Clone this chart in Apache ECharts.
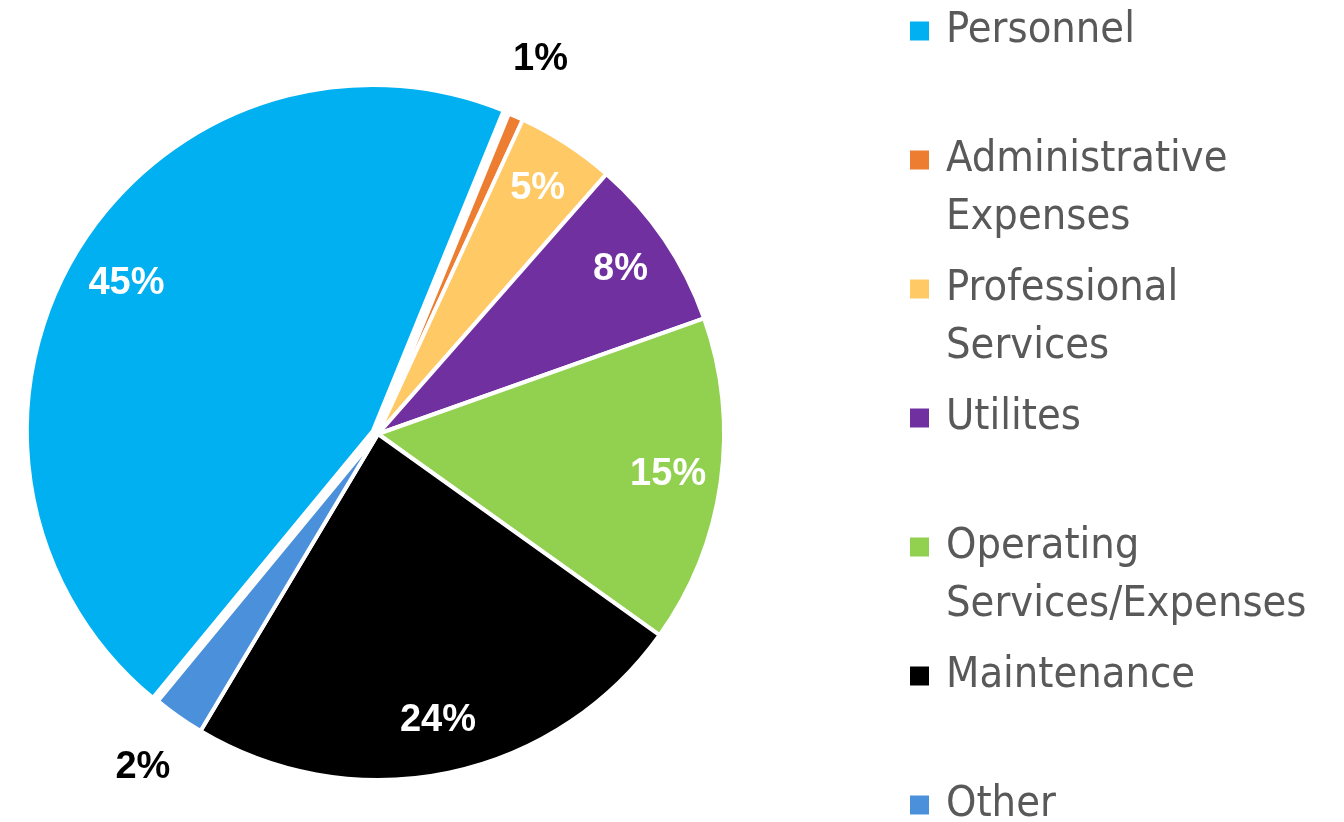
<!DOCTYPE html>
<html><head><meta charset="utf-8">
<script src="https://cdn.jsdelivr.net/npm/echarts@6/dist/echarts.min.js"></script>
<style>html,body{margin:0;padding:0;background:#fff}#c{width:1344px;height:822px}</style>
</head><body><div id="c"></div>
<script>
const categories = ['Personnel', 'Administrative\nExpenses', 'Professional\nServices', 'Utilites', 'Operating\nServices/Expenses', 'Maintenance', 'Other'];
const values = [45.2, 0.7, 4.6, 8.1, 15.3, 23.7, 2.4];
const colors = ['#00B0F0', '#ED7D31', '#FFCA66', '#7030A0', '#92D050', '#000000', '#4A90DA'];

const chart = echarts.init(document.getElementById('c'), null, {renderer: 'canvas'});
const CENTER = [378, 434], R = 346, START = 230.5;
const LEG_X = 910, LEG_Y0 = 31, LEG_STEP = 129, LINE_H = 58;

const legends = categories.map((name, i) => {
  const multi = name.indexOf('\n') >= 0;
  const boxH = (multi ? 3 : 1) * LINE_H;
  return {
    data: [name], left: LEG_X, top: LEG_Y0 + i * LEG_STEP - boxH / 2,
    orient: 'vertical', padding: 0, icon: 'rect', itemWidth: 19, itemHeight: 19,
    itemStyle: {borderWidth: 0}, selectedMode: false,
    formatter: n => (n.indexOf('\n') >= 0 ? '\n' + n : n),
    textStyle: {fontFamily: 'DejaVu Sans Condensed', fontSize: 43, color: '#595959', lineHeight: LINE_H,
      padding: [0, 0, 0, 12]}
  };
});

const baseData = categories.map((n, i) => ({name: n, value: values[i]}));
const labelFont = {fontFamily: 'Liberation Sans', fontSize: 38, fontWeight: 'bold'};

chart.setOption({
  animation: false,
  color: colors,
  legend: legends,
  series: [
    {
      type: 'pie', center: CENTER, radius: R, startAngle: START, clockwise: true,
      selectedMode: 'single', selectedOffset: 6,
      data: categories.map((n, i) => ({name: n, value: values[i], selected: i === 0, itemStyle: {color: colors[i]}})),
      itemStyle: {borderColor: '#ffffff', borderWidth: 4},
      label: {show: false}, labelLine: {show: false},
      emphasis: {disabled: true}, silent: true
    },
    {
      type: 'pie', center: CENTER, radius: [280, 300], startAngle: START, clockwise: true, silent: true,
      data: baseData, itemStyle: {color: 'rgba(0,0,0,0)', borderWidth: 0},
      label: Object.assign({show: true, position: 'inside', color: '#ffffff',
        formatter: p => p.percent >= 3 ? Math.round(p.percent) + '%' : ''}, labelFont),
      labelLine: {show: false}, emphasis: {disabled: true}
    },
    {
      type: 'pie', center: CENTER, radius: [395, 415], startAngle: START, clockwise: true, silent: true,
      data: baseData, itemStyle: {color: 'rgba(0,0,0,0)', borderWidth: 0},
      label: Object.assign({show: true, position: 'inside', color: '#000000',
        formatter: p => p.percent < 3 ? Math.round(p.percent) + '%' : ''}, labelFont),
      labelLine: {show: false}, emphasis: {disabled: true}
    }
  ]
});
</script></body></html>
